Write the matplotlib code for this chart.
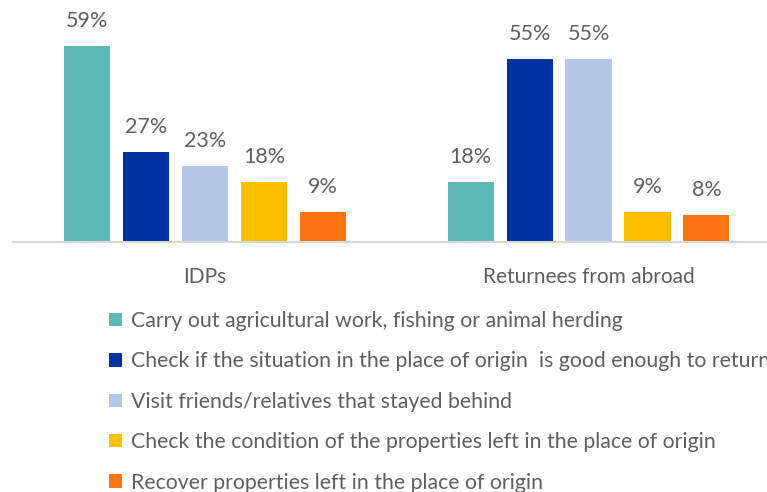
import matplotlib.pyplot as plt
from matplotlib.patches import Patch
import numpy as np

groups = ["IDPs", "Returnees from abroad"]
reasons = [
    "Carry out agricultural work, fishing or animal herding",
    "Check if the situation in the place of origin  is good enough to return",
    "Visit friends/relatives that stayed behind",
    "Check the condition of the properties left in the place of origin",
    "Recover properties left in the place of origin",
]
idps = [59, 27, 23, 18, 9]
returnees = [18, 55, 55, 9, 8]
colors = ["#5eb8b3", "#0033a0", "#b4c7e7", "#ffc000", "#ff7415"]

plt.rcParams['font.family'] = ['Lato', 'DejaVu Sans']
text_col = "#5f5f5f"

fig = plt.figure(figsize=(7.67, 4.92), dpi=100)
ax = fig.add_axes([13 / 767, 1 - 242 / 492, 1 - 13 / 767, 242 / 492])

x = np.arange(len(groups))
pitch = 0.1538
width = 0.12
values = np.array([idps, returnees]).T  # one row per reason
for i, (vals, c) in enumerate(zip(values, colors)):
    pos = x + (i - 2) * pitch
    bars = ax.bar(pos, vals, width, color=c, label=reasons[i])
    for b, v in zip(bars, vals):
        ax.annotate(f"{v}%", (b.get_x() + b.get_width() / 2, v),
                    xytext=(0, 18), textcoords="offset points",
                    ha="center", va="center", fontsize=15.5, color=text_col)

ax.set_xlim(-0.5006, 1.4654)
ax.set_ylim(0, 242 / 3.32)
for s in ["top", "right", "left"]:
    ax.spines[s].set_visible(False)
ax.spines["bottom"].set_color("#d9d9d9")
ax.spines["bottom"].set_linewidth(1.5)
ax.set_yticks([])
ax.set_xticks(x)
ax.set_xticklabels(groups, fontsize=15, color=text_col)
ax.tick_params(axis="x", length=0, pad=18)

# legend runs off the right edge, same as the source image
handles = [Patch(facecolor=c) for c in colors]
fig.legend(handles, reasons, loc="upper left", bbox_to_anchor=(109 / 767, 1 - 311 / 492),
           frameon=False, fontsize=15.3, labelcolor=text_col, handlelength=0.6,
           handleheight=0.6, handletextpad=0.45, labelspacing=0.96,
           borderaxespad=0, borderpad=0)

fig.savefig("out.png", dpi=100)
